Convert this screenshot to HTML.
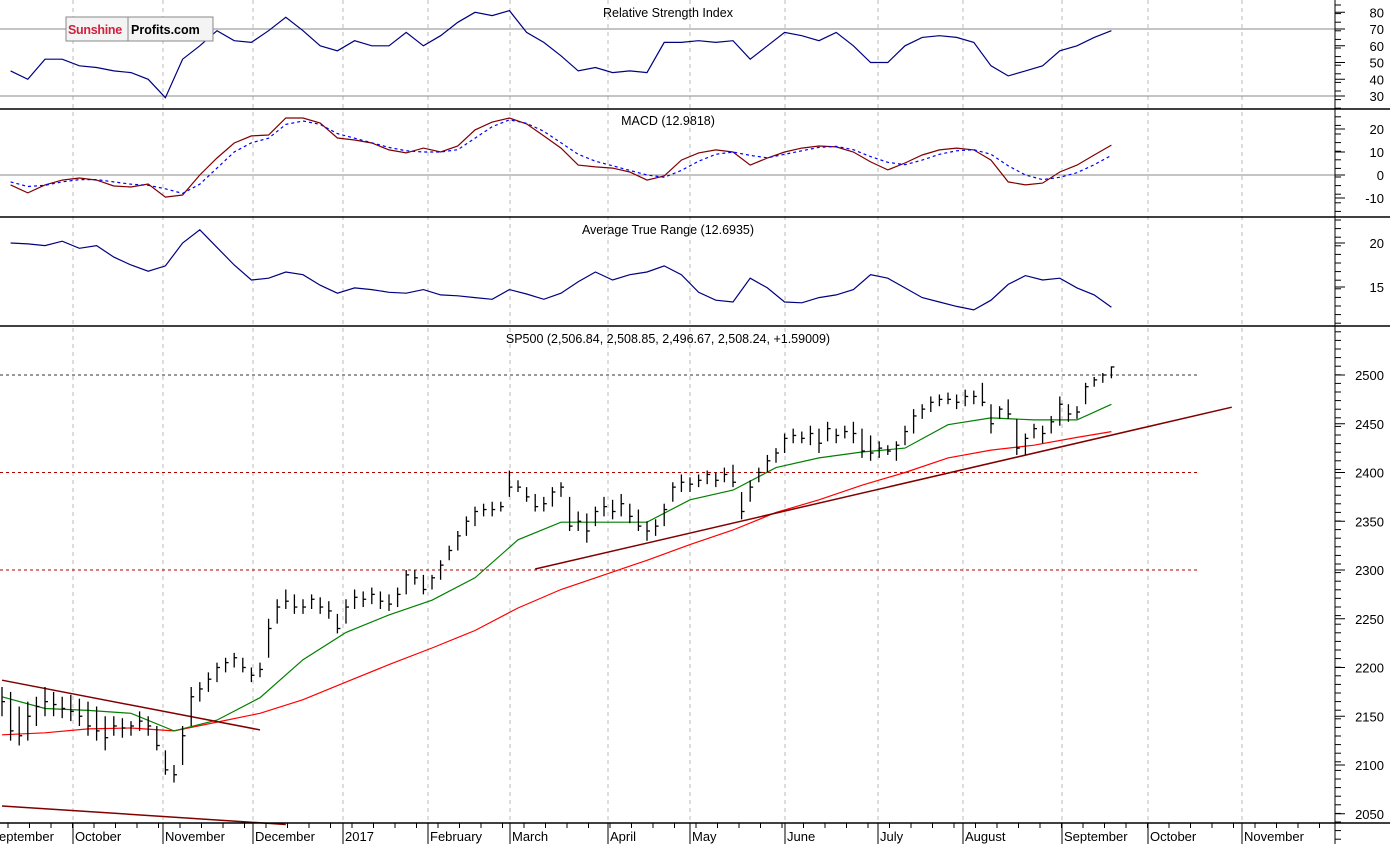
<!DOCTYPE html>
<html><head><meta charset="utf-8"><style>
html,body{margin:0;padding:0;background:#fff;}
svg{display:block;font-family:"Liberation Sans",sans-serif;}
</style></head><body>
<svg id="c" width="1390" height="844" xmlns="http://www.w3.org/2000/svg">
<rect width="1390" height="844" fill="#fff"/>
<g id="grid"></g><g id="marks"></g><g id="axes"></g>
<g>
<rect x="66" y="17" width="147" height="24" fill="#f4f4f4" stroke="#888"/>
<line x1="128" y1="17" x2="128" y2="41" stroke="#888"/>
<text x="68" y="34" font-size="12.5" font-weight="bold" fill="#d0213f" letter-spacing="-0.3">Sunshine</text>
<text x="131" y="34" font-size="12.5" font-weight="bold" fill="#000">Profits.com</text>
</g>
</svg>
<script>
const months=["eptember","October","November","December","2017","February","March","April","May","June","July","August","September","October","November"];
const monthX=[-3,73,163,253,343,428,510,608,690,785,878,963,1062,1148,1242];
const rsi=[45,40,52,52,48,47,45,44,40,29,52,60,69,63,62,69,77,69,60,57,63,60,60,68,60,66,74,80,78,81,68,62,54,45,47,44,45,44,62,62,63,62,63,52,60,68,66,63,68,60,50,50,60,65,66,65,62,48,42,45,48,57,60,65,69];
const macd=[-4.3,-7.8,-4.3,-2.2,-1.3,-2.2,-4.8,-5.2,-3.9,-9.6,-8.7,0,7.4,13.9,17,17.4,24.8,24.8,22.6,16.1,15.2,13.9,10.9,9.6,11.7,10,12.6,19.6,23,24.8,22.2,17,11.7,4.3,3.5,3,1.3,-2.2,-0.4,6.5,9.6,10.9,10,4.3,7.4,10,11.7,12.6,12.2,10,5.7,2.2,5.2,8.7,10.9,11.7,10.9,6.5,-3,-4.3,-3.5,1.3,4.3,8.7,13];
const signal=[-3,-5,-4.5,-3,-2,-2,-3,-4,-4.5,-6,-8,-4,3,10,14,16,22,23.5,22,18,16,14,12,10.5,10,10,11,16,21,24,22.5,19,14,9,6,4,2,0,-1,2,6,9,10,8.5,7.5,9,10.5,12,12.5,11,8,5.5,4.5,6.5,9,10.5,11,9,4,0,-2,-1,1,4.5,8.5];
const atr=[20,19.9,19.7,20.2,19.4,19.7,18.4,17.5,16.8,17.4,20,21.5,19.5,17.5,15.8,16,16.7,16.4,15.2,14.3,14.9,14.7,14.4,14.3,14.7,14.1,14,13.8,13.6,14.7,14.2,13.6,14.3,15.6,16.7,15.8,16.4,16.7,17.4,16.4,14.4,13.5,13.3,16,14.9,13.3,13.2,13.8,14.1,14.7,16.4,16,14.9,13.8,13.3,12.8,12.4,13.5,15.3,16.3,15.8,16,14.9,14.1,12.7];
const highs=[2180,2175,2160,2165,2170,2180,2175,2170,2172,2168,2165,2160,2150,2150,2148,2145,2155,2150,2140,2115,2100,2140,2180,2185,2195,2205,2210,2215,2210,2200,2205,2250,2270,2280,2275,2270,2275,2272,2268,2255,2270,2280,2278,2282,2278,2275,2282,2300,2300,2295,2295,2310,2325,2340,2355,2365,2368,2370,2370,2402,2392,2385,2378,2375,2385,2390,2375,2360,2358,2365,2375,2372,2378,2368,2362,2350,2352,2368,2390,2398,2395,2398,2402,2400,2405,2408,2380,2392,2405,2418,2425,2440,2445,2442,2448,2445,2452,2445,2448,2452,2445,2438,2432,2428,2432,2448,2465,2470,2478,2480,2482,2480,2485,2484,2492,2470,2468,2475,2455,2440,2450,2448,2458,2478,2470,2468,2492,2498,2502,2508.85];
const lows=[2150,2125,2120,2125,2140,2150,2150,2148,2145,2140,2130,2125,2115,2130,2128,2130,2135,2130,2115,2090,2082,2100,2140,2165,2175,2185,2195,2200,2195,2185,2190,2210,2245,2260,2255,2255,2260,2255,2250,2235,2245,2260,2262,2265,2260,2258,2262,2275,2285,2275,2280,2290,2310,2320,2335,2345,2355,2355,2360,2375,2380,2370,2360,2360,2365,2375,2340,2340,2328,2345,2355,2352,2355,2348,2340,2330,2335,2345,2370,2380,2380,2385,2388,2385,2390,2385,2352,2370,2390,2400,2410,2420,2430,2430,2428,2420,2432,2430,2435,2430,2415,2412,2415,2418,2412,2428,2440,2455,2462,2468,2470,2465,2468,2470,2468,2440,2455,2455,2418,2418,2435,2430,2440,2448,2452,2455,2470,2488,2492,2496.67];
const closes=[2165,2135,2130,2150,2160,2165,2162,2158,2155,2150,2140,2135,2128,2140,2138,2140,2145,2140,2120,2095,2090,2130,2170,2178,2188,2200,2205,2210,2200,2192,2198,2240,2262,2268,2262,2262,2270,2262,2258,2240,2262,2272,2270,2275,2268,2265,2275,2295,2292,2280,2292,2305,2320,2335,2350,2360,2362,2362,2365,2385,2385,2375,2365,2368,2380,2385,2345,2350,2340,2360,2365,2360,2368,2355,2345,2340,2345,2362,2385,2390,2388,2392,2398,2392,2398,2390,2360,2385,2400,2412,2420,2435,2438,2435,2440,2430,2445,2438,2442,2440,2422,2420,2425,2422,2428,2442,2458,2465,2472,2475,2475,2472,2478,2478,2472,2450,2465,2460,2425,2435,2445,2440,2452,2470,2460,2462,2488,2495,2500,2508.24];
const maIdx=[0,5,10,15,20,25,30,35,40,45,50,55,60,65,70,75,80,85,90,95,100,105,110,115,120,125,129];
const ma50=[2170,2158,2156,2153,2135,2146,2169,2208,2236,2254,2269,2292,2331,2349,2349,2349,2372,2382,2405,2415,2421,2425,2449,2456,2454,2454,2470];
const ma200=[2131,2133,2137,2138,2135,2144,2153,2167,2185,2203,2220,2238,2261,2280,2295,2310,2326,2341,2359,2372,2387,2400,2415,2423,2428,2436,2442];
const trendStart=[0,0,62];const trendStartP=[2187,2058,2301];
const trendEnd=[30,33,143];const trendEndP=[2136,2039,2467];
const hLevels=[2500,2400,2300];
const priceTicks=[2500,2450,2400,2350,2300,2250,2200,2150,2100,2050];
const rsiTicks=[80,70,60,50,40,30];
const macdTicks=[20,10,0,-10];
const atrTicks=[20,15];

const NS="http://www.w3.org/2000/svg";
function mk(p,tag,at){const e=document.createElementNS(NS,tag);for(const k in at)e.setAttribute(k,at[k]);p.appendChild(e);return e;}
const G=document.getElementById('grid'),M=document.getElementById('marks'),A=document.getElementById('axes');
const xBar=i=>2+i*8.6;
const xK=k=>10.6+k*17.2;
const yP=p=>375+(2500-p)*0.975;
const yR=v=>29+(70-v)*1.675;
const yM=v=>175-v*2.3;
const yA=v=>243+(20-v)*8.8;

monthX.forEach((x,i)=>{if(x<0)return;const l=mk(G,'line',{x1:x,y1:0,x2:x,y2:823,stroke:'#bbb','stroke-dasharray':'4,4'});

});
[[yR(70)],[yR(30)],[yM(0)]].forEach(a=>{const l=mk(G,'line',{x1:0,y1:a[0],x2:1335,y2:a[0],stroke:'#888'});

});
hLevels.forEach(v=>{const l=mk(G,'line',{x1:0,y1:yP(v),x2:1200,y2:yP(v),stroke:v===2500?'#333':'#b00000','stroke-dasharray':'3,3'});

});

function poly(arr,xf,yf,col,dash,name,idx){const pts=arr.map((v,k)=>xf(idx?idx[k]:k).toFixed(1)+','+yf(v).toFixed(1)).join(' ');
const p=mk(M,'polyline',{points:pts,fill:'none',stroke:col,'stroke-width':1.2});if(dash)p.setAttribute('stroke-dasharray',dash);

}
poly(rsi,xK,yR,'#000080',null,'rsi-line');
poly(macd,xK,yM,'#800000',null,'macd-line');
poly(signal,xK,yM,'#0000ff','3,3','macd-signal-line');
poly(atr,xK,yA,'#000080',null,'atr-line');
poly(ma200,xBar,yP,'#ff0000',null,'ma200-line',maIdx);
poly(ma50,xBar,yP,'#008000',null,'ma50-line',maIdx);
trendStart.forEach((s,i)=>{const l=mk(M,'line',{x1:xBar(s),y1:yP(trendStartP[i]),x2:xBar(trendEnd[i]),y2:yP(trendEndP[i]),stroke:'#800000','stroke-width':1.5});

});
highs.forEach((h,i)=>{const x=xBar(i);const g=mk(M,'g',{stroke:'#000','stroke-width':1.3});


mk(g,'line',{x1:x,y1:yP(h),x2:x,y2:yP(lows[i])});
mk(g,'line',{x1:x,y1:yP(closes[i]),x2:x+3,y2:yP(closes[i])});});

[109,217,326,823].forEach(y=>{const l=mk(A,'line',{x1:0,y1:y,x2:1390,y2:y,stroke:'#000','stroke-width':1.5});

});
mk(A,'line',{x1:1335,y1:0,x2:1335,y2:844,stroke:'#000'});
function yTicks(vals,yf,name){vals.forEach(v=>{const y=yf(v);mk(A,'line',{x1:1335,y1:y,x2:1345,y2:y,stroke:'#000'});
const t=mk(A,'text',{x:1384,y:y+5,'font-size':13,'text-anchor':'end',fill:'#000'});t.textContent=v;

});}
yTicks(priceTicks,yP,'price-tick-label');yTicks(rsiTicks,yR,'rsi-tick-label');yTicks(macdTicks,yM,'macd-tick-label');yTicks(atrTicks,yA,'atr-tick-label');
for(let y=5;y<844;y+=8.6){mk(A,'line',{x1:1335,y1:y,x2:1341,y2:y,stroke:'#000'});}
for(let x=8;x<1335;x+=21.5){mk(A,'line',{x1:x,y1:823,x2:x,y2:828,stroke:'#000'});}
months.forEach((m,i)=>{const t=mk(A,'text',{x:monthX[i]+2,y:841,'font-size':13,fill:'#000'});t.textContent=m;


if(monthX[i]>=0)mk(A,'line',{x1:monthX[i],y1:823,x2:monthX[i],y2:844,stroke:'#000'});});
const titles=[["Relative Strength Index",17,'rsi-title'],["MACD (12.9818)",125,'macd-title'],["Average True Range (12.6935)",234,'atr-title'],["SP500 (2,506.84, 2,508.85, 2,496.67, 2,508.24, +1.59009)",343,'price-title']];
titles.forEach(a=>{const t=mk(A,'text',{x:668,y:a[1],'font-size':12.5,'text-anchor':'middle',fill:'#000'});t.textContent=a[0];

});
</script>
</body></html>
